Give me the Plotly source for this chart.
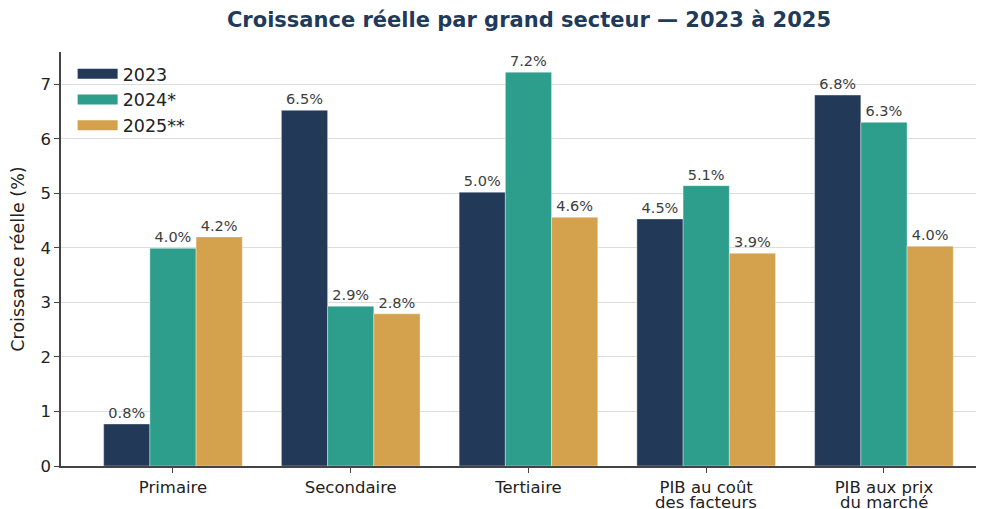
import plotly.graph_objects as go

categories_line1 = ["Primaire", "Secondaire", "Tertiaire", "PIB au coût", "PIB aux prix"]
categories_line2 = ["", "", "", "des facteurs", "du marché"]
series_names = ["2023", "2024*", "2025**"]
v2023 = [0.77, 6.52, 5.02, 4.53, 6.80]
v2024 = [3.99, 2.93, 7.22, 5.14, 6.30]
v2025 = [4.20, 2.79, 4.56, 3.90, 4.03]
series_values = [v2023, v2024, v2025]
colors = ["#223a57", "#2e9e8c", "#d4a24c"]

title_text = "Croissance réelle par grand secteur — 2023 à 2025"
y_title = "Croissance réelle (%)"
y_ticks = [0, 1, 2, 3, 4, 5, 6, 7]

FONT = "DejaVu Sans"
# the page places the figure 8px from the window's top-left corner
W, H = 976, 501
ML, MR, MT, MB = 53, 0, 44, 43
plot_h = H - MT - MB

fig = go.Figure()
xidx = list(range(len(categories_line1)))
for name, vals, col in zip(series_names, series_values, colors):
    fig.add_trace(go.Bar(
        x=xidx, y=vals, name=name,
        marker=dict(color=col, line=dict(color="rgba(255,255,255,0.6)", width=0.6)),
        texttemplate="%{y:.1f}%", textposition="outside",
        textfont=dict(family=FONT, size=14.5, color="#3d3d3d"),
        cliponaxis=False, showlegend=False, hoverinfo="skip",
    ))
# legend entries (wide patches)
for i, (name, col) in enumerate(zip(series_names, colors)):
    fig.add_trace(go.Scatter(
        x=[None], y=[None], mode="lines", name=name,
        line=dict(color=col, width=12), legendgroup=str(i), showlegend=True,
    ))

# second lines of the category labels
for i, t in enumerate(categories_line2):
    if t:
        fig.add_annotation(x=i, xref="x", y=-(494 - (H - MB)) / plot_h, yref="paper",
                           text=t, showarrow=False, xanchor="center", yanchor="middle",
                           font=dict(family=FONT, size=16.5, color="#222"))

fig.update_layout(
    width=W, height=H,
    margin=dict(l=ML, r=MR, t=MT, b=MB),
    paper_bgcolor="white", plot_bgcolor="white",
    barmode="group", bargap=0.22, bargroupgap=0,
    title=dict(text="<b>" + title_text + "</b>", x=521/W, xanchor="center",
               y=1 - 12/H, yanchor="middle",
               font=dict(family=FONT, size=21, color="#1f3a5a")),
    font=dict(family=FONT, color="#222"),
    legend=dict(x=0.0126, y=0.9907, xanchor="left", yanchor="top",
                font=dict(family=FONT, size=17.5, color="#222"),
                bgcolor="rgba(0,0,0,0)", itemwidth=40,
                traceorder="grouped", tracegroupgap=0),
    xaxis=dict(
        range=[-0.630, 4.563], tickmode="array", tickvals=xidx, ticktext=categories_line1,
        showline=True, linecolor="#444", linewidth=1.5,
        ticks="outside", ticklen=5, tickcolor="#444", tickwidth=1.3,
        showgrid=False, zeroline=False, automargin=False,
        tickfont=dict(family=FONT, size=16.5, color="#222"),
    ),
    yaxis=dict(
        range=[0, 7.59], tickmode="array", tickvals=y_ticks,
        showline=True, linecolor="#444", linewidth=1.5,
        ticks="outside", ticklen=5, tickcolor="#444", tickwidth=1.3,
        showgrid=True, gridcolor="#dddddd", gridwidth=1, zeroline=False, automargin=False,
        tickfont=dict(family=FONT, size=16.5, color="#222"),
        title=dict(text=y_title, standoff=14, font=dict(family=FONT, size=17.5, color="#222")),
    ),
)

fig.write_html("out.html")
